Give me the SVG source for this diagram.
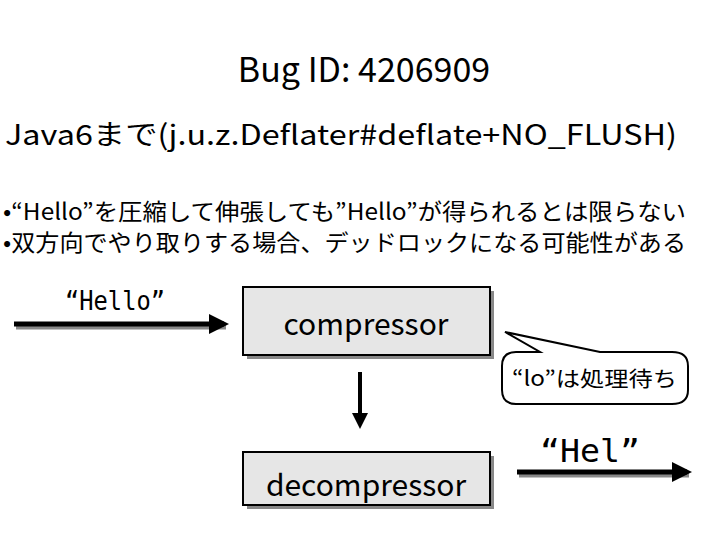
<svg xmlns="http://www.w3.org/2000/svg" width="728" height="546" viewBox="0 0 728 546">
<style>
text{font-family:"Noto Sans CJK JP","Liberation Sans",sans-serif;fill:#000}
.box{fill:#e6e6e6;stroke:#000;stroke-width:2}
.sh{fill:#888}
.big{font-size:30px}
.mono{font-family:"DejaVu Sans Mono","Noto Sans CJK JP",monospace}
</style>
<defs>
<marker id="ah" markerWidth="4" markerHeight="4" refX="3" refY="2" orient="auto" markerUnits="strokeWidth">
<path d="M0,0 L4,2 L0,4 Z" fill="#000"/>
</marker>
</defs>
<rect width="728" height="546" fill="#fff"/>
<text x="364" y="82" font-size="34" text-anchor="middle">Bug ID: 4206909</text>
<text x="5" y="145" font-size="28" textLength="672" lengthAdjust="spacingAndGlyphs">Java6まで(j.u.z.Deflater#deflate+NO_FLUSH)</text>
<text x="3" y="220" font-size="23" textLength="683" lengthAdjust="spacingAndGlyphs">•“Hello”を圧縮して伸張しても”Hello”が得られるとは限らない</text>
<text x="3" y="251" font-size="23" textLength="683" lengthAdjust="spacingAndGlyphs">•双方向でやり取りする場合、デッドロックになる可能性がある</text>
<g id="connectors">
<line x1="16" y1="327" x2="226" y2="327" stroke="#888" stroke-width="5"/>
<line x1="14" y1="324" x2="224" y2="324" stroke="#000" stroke-width="5" marker-end="url(#ah)"/>
<line x1="360" y1="372" x2="360" y2="425" stroke="#000" stroke-width="4" marker-end="url(#ah)"/>
<line x1="519" y1="475" x2="689" y2="475" stroke="#888" stroke-width="5"/>
<line x1="517" y1="472" x2="687" y2="472" stroke="#000" stroke-width="5" marker-end="url(#ah)"/>
<text class="mono" x="65" y="310" font-size="26" textLength="100" lengthAdjust="spacingAndGlyphs">“Hello”</text>
<text class="mono" x="540" y="462" font-size="32" textLength="100" lengthAdjust="spacingAndGlyphs">“Hel”</text>
</g>
<g id="compressor">
<rect class="sh" x="247" y="291" width="247" height="68"/>
<rect class="box" x="243" y="287" width="247" height="68"/>
<text class="big" x="366" y="335" text-anchor="middle">compressor</text>
</g>
<g id="decompressor">
<rect class="sh" x="247" y="456" width="247" height="53"/>
<rect class="box" x="243" y="452" width="247" height="53"/>
<text class="big" x="366" y="496" text-anchor="middle">decompressor</text>
</g>
<g id="callout">
<path d="M505,332 L600,352 L672,352 Q688,352 688,366 L688,390 Q688,404 672,404 L516,404 Q502,404 502,390 L502,366 Q502,352 516,352 L540,352 Z" fill="#fff" stroke="#000" stroke-width="2"/>
<text x="512" y="386" font-size="21" textLength="165" lengthAdjust="spacingAndGlyphs">“lo”は処理待ち</text>
</g>
</svg>
